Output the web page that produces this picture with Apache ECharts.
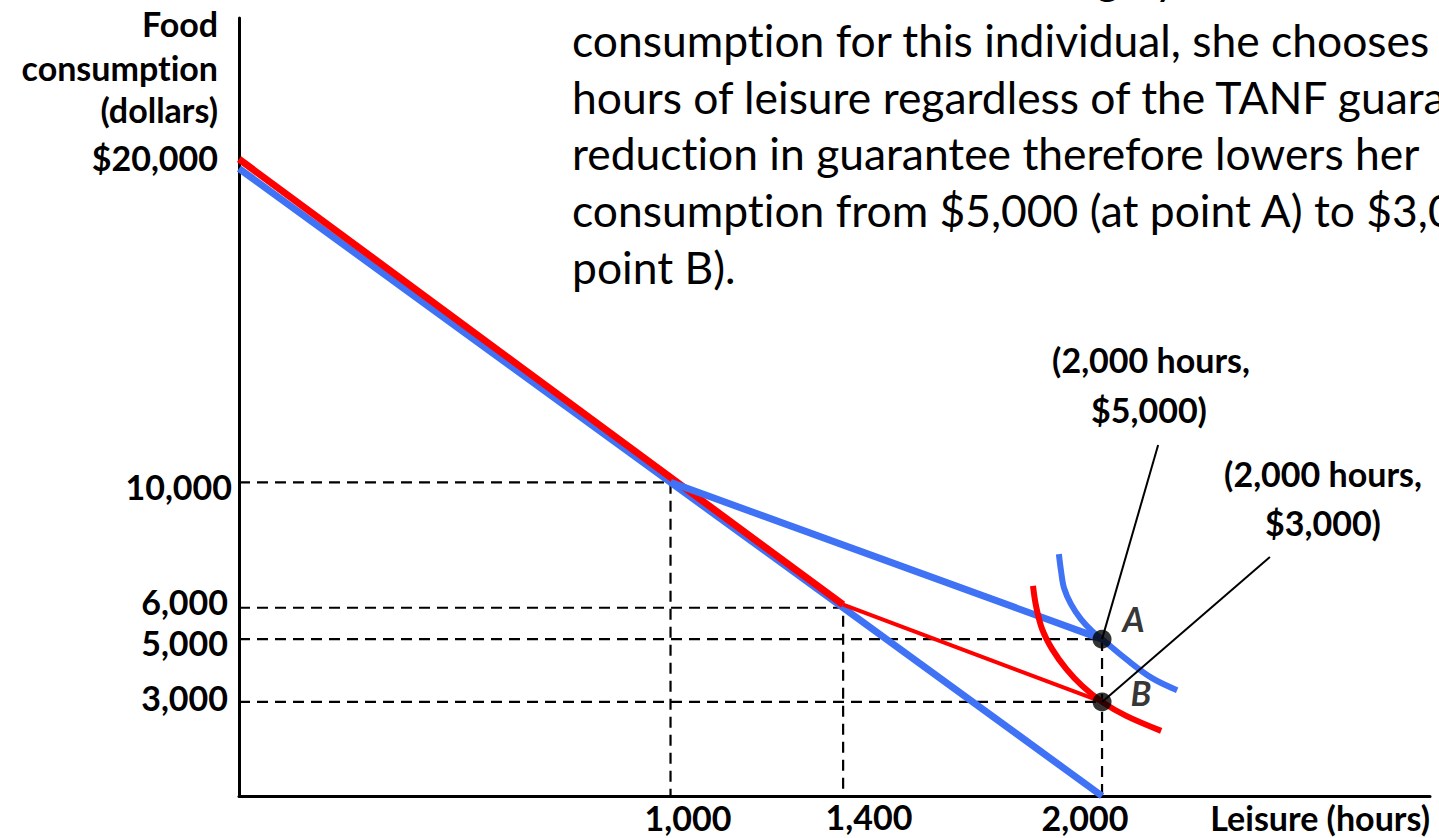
<!DOCTYPE html>
<html>
<head>
<meta charset="utf-8">
<script src="https://cdn.jsdelivr.net/npm/echarts@6/dist/echarts.min.js"></script>
<style>
html,body{margin:0;padding:0;background:#fff;}
#chart{width:1439px;height:838px;}
#chart text{font-variant-ligatures:none;font-feature-settings:"liga" 0,"clig" 0;}
</style>
</head>
<body>
<div id="chart"></div>
<script>
// ---------- data ----------
const xTickValues = [1000, 1400, 2000];
const xTickLabels = ['1,000', '1,400', '2,000'];
const yTickValues = [20000, 10000, 6000, 5000, 3000];
const yTickLabels = ['$20,000', '10,000', '6,000', '5,000', '3,000'];
const yTitleLines = ['Food', 'consumption', '(dollars)'];
const xTitle = 'Leisure (hours)';

const budgetNoTanf = [[0, 20000], [2000, 0]];
const budgetTanfBlue = [[1000, 10000], [2000, 5000]];
const budgetRedThick = [[0, 20300], [1400, 6100]];
const budgetRedThin = [[1400, 6100], [2000, 3000]];
const icBlue = [[1900, 7710], [1905, 7168], [1912, 6626], [1928, 6116], [1951, 5638], [1977, 5255], [2000, 5000], [2056, 4362], [2116, 3757], [2174, 3374]];
const icRed = [[1840, 6698], [1847, 6060], [1861, 5327], [1884, 4690], [1917, 4052], [1954, 3510], [2000, 3000], [2056, 2554], [2137, 2076]];
const guide10000 = [[0, 10000], [1000, 10000], [1000, 0]];
const guide6000 = [[0, 6000], [1400, 6000], [1400, 0]];
const guide5000 = [[0, 5000], [2000, 5000], [2000, 0]];
const guide3000 = [[0, 3000], [2000, 3000]];
const pointA = [2000, 5000];
const pointB = [2000, 3000];
const leaderA = [[2000, 5000], [2130, 11189]];
const leaderB = [[2000, 3000], [2389, 7619]];
const calloutA = ['(2,000 hours,', '$5,000)'];
const calloutB = ['(2,000 hours,', '$3,000)'];
const paragraph = [
  'Since leisure is valued so highly relative to food',
  'consumption for this individual, she chooses 2,000',
  'hours of leisure regardless of the TANF guarantee. The',
  'reduction in guarantee therefore lowers her',
  'consumption from $5,000 (at point A) to $3,000 (at',
  'point B).'
];

// ---------- styles ----------
const BLUE = '#3f72f5';
const RED = '#ff0000';
const FONT = 'Lato';
const boldLbl = 34;

function lineSeries(data, color, width, extra) {
  return Object.assign({
    type: 'line', data: data, showSymbol: false, symbol: 'none', silent: true,
    lineStyle: { color: color, width: width, cap: 'butt', join: 'miter' },
    animation: false
  }, extra || {});
}
function dashed(data) {
  return lineSeries(data, '#000', 2, { lineStyle: { color: '#000', width: 2.2, type: [11, 7] }, z: 1 });
}

const series = [
  dashed(guide10000), dashed(guide6000), dashed(guide5000), dashed(guide3000),
  lineSeries(budgetNoTanf, BLUE, 7, { z: 2 }),
  lineSeries(budgetRedThick, RED, 7, { z: 3 }),
  lineSeries(budgetTanfBlue, BLUE, 7, { z: 4 }),
  lineSeries(budgetRedThin, RED, 4, { z: 4 }),
  lineSeries(icRed, RED, 6, { z: 5, smooth: 0.35 }),
  lineSeries(icBlue, BLUE, 6, { z: 5, smooth: 0.35 }),
  lineSeries(leaderA, '#000', 2, { z: 6 }),
  lineSeries(leaderB, '#000', 2, { z: 6 }),
  {
    type: 'scatter', z: 7, silent: true, animation: false,
    symbolSize: 19, itemStyle: { color: '#000' },
    data: [
      { value: pointA, label: { show: true, formatter: 'A', position: 'right', offset: [6, -21] } },
      { value: pointB, label: { show: true, formatter: 'B', position: 'right', offset: [14, -9] } }
    ],
    label: { color: '#000', fontFamily: FONT, fontWeight: 'bold', fontStyle: 'italic', fontSize: 34 }
  }
];

const graphic = [];
function txt(x, y, text, size, weight, align) {
  graphic.push({
    type: 'text', x: x, y: y, silent: true,
    style: { text: text, fontFamily: FONT, fontSize: size, fontWeight: weight, fill: '#000', align: align, verticalAlign: 'middle' }
  });
}
// y-axis title & tick labels
const yTitleY = [23, 67, 109];
yTitleLines.forEach((t, i) => txt(218, yTitleY[i], t, boldLbl, 'bold', 'right'));
const yLabelPos = [[218, 157], [232, 486], [228, 601], [228, 642], [228, 697]];
yTickLabels.forEach((t, i) => txt(yLabelPos[i][0], yLabelPos[i][1], t, boldLbl, 'bold', 'right'));
const xLabelPos = [[688, 817], [869, 816], [1085, 817]];
xTickLabels.forEach((t, i) => txt(xLabelPos[i][0], xLabelPos[i][1], t, boldLbl, 'bold', 'center'));
txt(1430, 817, xTitle, boldLbl, 'bold', 'right');
// callouts
txt(1151, 359, calloutA[0], boldLbl, 'bold', 'center');
txt(1149, 409, calloutA[1], boldLbl, 'bold', 'center');
txt(1323, 473, calloutB[0], boldLbl, 'bold', 'center');
txt(1323, 522, calloutB[1], boldLbl, 'bold', 'center');
// paragraph (first line sits above the top edge; only descenders show)
const paraY = [-24, 39.6, 96.2, 152.8, 209.4, 266];
paragraph.forEach((t, i) => txt(572, paraY[i], t, 44.4, 'normal', 'left'));

const chart = echarts.init(document.getElementById('chart'), null, { renderer: 'svg' });
chart.setOption({
  animation: false,
  backgroundColor: '#fff',
  grid: { left: 239, right: 9, top: 18, bottom: 42, containLabel: false },
  xAxis: {
    type: 'value', min: 0, max: 2760,
    axisLine: { show: true, onZero: true, lineStyle: { color: '#000', width: 3 } },
    axisTick: { show: false }, axisLabel: { show: false }, splitLine: { show: false }
  },
  yAxis: {
    type: 'value', min: 0, max: 24800,
    axisLine: { show: true, lineStyle: { color: '#000', width: 3 } },
    axisTick: { show: false }, axisLabel: { show: false }, splitLine: { show: false }
  },
  series: series,
  graphic: graphic
});
</script>
</body>
</html>
